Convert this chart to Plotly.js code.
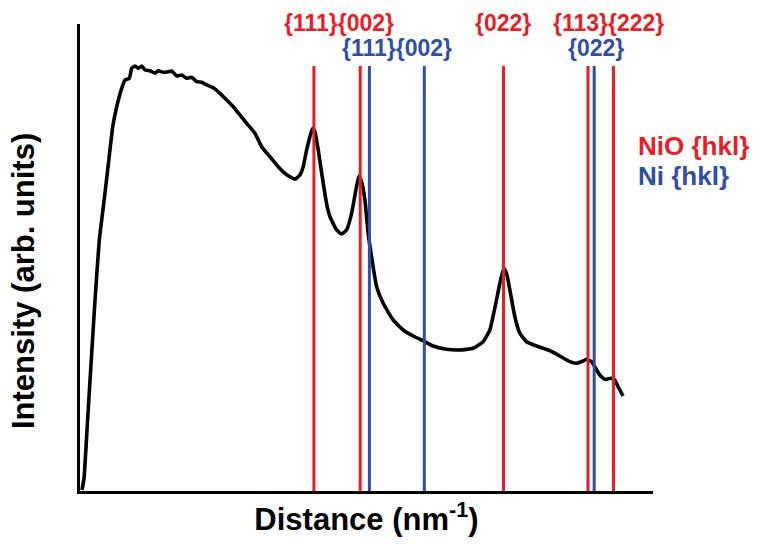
<!DOCTYPE html>
<html>
<head>
<meta charset="utf-8">
<script src="https://cdn.plot.ly/plotly-3.0.1.min.js"></script>
<style>html,body{margin:0;padding:0;background:#fff;}#chart{width:757px;height:544px;}</style>
</head>
<body>
<div id="chart"></div>
<script>
// Intensity profile (distance in nm^-1, intensity in arbitrary units)
var distance = [0.938,0.966,1.007,1.049,1.118,1.177,1.233,1.288,1.363,1.418,1.487,1.533,1.592,1.625,1.671,1.717,1.764,1.809,1.879,1.948,1.993,2.063,2.132,2.179,2.248,2.317,2.386,2.455,2.525,2.594,2.663,2.754,2.847,2.940,3.031,3.124,3.216,3.331,3.424,3.539,3.653,3.746,3.815,3.884,3.954,3.999,4.046,4.092,4.129,4.161,4.207,4.276,4.327,4.369,4.461,4.530,4.599,4.669,4.728,4.770,4.807,4.853,4.898,4.945,5.015,5.106,5.244,5.383,5.521,5.659,5.797,5.983,6.167,6.351,6.489,6.582,6.674,6.730,6.775,6.813,6.868,6.928,6.997,7.089,7.228,7.412,7.550,7.688,7.781,7.872,7.920,7.989,8.034,8.103,8.173,8.265,8.311,8.357,8.426];
var intensity = [0.21,2.78,13.06,23.77,40.90,53.75,60.88,68.03,78.01,82.29,86.23,88.01,88.37,90.51,91.01,90.51,91.01,90.15,90.00,89.44,90.00,89.66,89.79,89.94,88.87,89.08,88.37,88.59,87.64,87.52,86.94,86.36,85.16,83.73,82.29,80.51,78.74,76.60,73.73,71.58,69.44,68.03,67.30,66.75,67.67,69.44,73.02,75.87,77.67,76.94,73.02,65.89,61.24,58.74,55.89,55.03,55.89,59.46,64.45,67.45,66.23,62.31,55.18,50.17,43.75,40.19,36.62,34.48,33.19,32.18,31.05,30.34,30.19,30.56,31.97,34.48,40.90,45.18,47.69,46.62,42.33,37.32,33.77,31.97,31.05,30.04,28.91,27.69,27.35,27.84,28.20,27.69,26.62,24.84,23.92,24.13,23.77,22.33,20.34];

// Reflection positions (nm^-1)
var nioPeaks = [4.147, 4.788, 6.771, 7.940, 8.293];
var niPeaks = [4.915, 5.675, 8.026];
var markerTop = 91;

// Labels
var nioLabels = ['{111}{002}', '{022}', '{113}{222}'];
var niLabels = ['{111}{002}', '{022}'];
var legendLabels = ['NiO {hkl}', 'Ni {hkl}'];

var RED = '#ED1C24', BLUE = '#2E4FA3';
var FONT = 'Liberation Sans, Arial, Helvetica, sans-serif';

function vlines(arr) {
  var xs = [], ys = [];
  arr.forEach(function (v) { xs.push(v, v, null); ys.push(0, markerTop, null); });
  return {x: xs, y: ys};
}
var nioL = vlines(nioPeaks), niL = vlines(niPeaks);

var traces = [
  {x: distance, y: intensity, type: 'scatter', mode: 'lines',
   line: {color: '#000', width: 3.6, shape: 'spline', smoothing: 0.4}, hoverinfo: 'skip'},
  {x: nioL.x, y: nioL.y, type: 'scatter', mode: 'lines',
   line: {color: RED, width: 3}, hoverinfo: 'skip'},
  {x: niL.x, y: niL.y, type: 'scatter', mode: 'lines',
   line: {color: BLUE, width: 3}, hoverinfo: 'skip'}
];

var nioLabelX = [4.493, 6.769, 8.228];
var niLabelX = [5.302, 8.048];
var ann = [];
nioLabels.forEach(function (t, i) {
  ann.push({x: nioLabelX[i], y: 1.0015, xref: 'x', yref: 'paper', text: '<b>' + t + '</b>',
    showarrow: false, xanchor: 'center', yanchor: 'middle',
    font: {family: FONT, size: 23, color: RED}});
});
niLabels.forEach(function (t, i) {
  ann.push({x: niLabelX[i], y: 0.948, xref: 'x', yref: 'paper', text: '<b>' + t + '</b>',
    showarrow: false, xanchor: 'center', yanchor: 'middle',
    font: {family: FONT, size: 23, color: BLUE}});
});
ann.push({x: 8.60, y: 73.9, xref: 'x', yref: 'y', text: '<b>' + legendLabels[0] + '</b>',
  showarrow: false, xanchor: 'left', yanchor: 'middle', font: {family: FONT, size: 26, color: RED}});
ann.push({x: 8.60, y: 67.45, xref: 'x', yref: 'y', text: '<b>' + legendLabels[1] + '</b>',
  showarrow: false, xanchor: 'left', yanchor: 'middle', font: {family: FONT, size: 26, color: BLUE}});
ann.push({x: -0.0977, y: 0.4497, xref: 'paper', yref: 'paper', text: '<b>Intensity (arb. units)</b>',
  textangle: -90, showarrow: false, xanchor: 'center', yanchor: 'middle',
  font: {family: FONT, size: 31, color: '#000'}});

var layout = {
  width: 757, height: 544,
  margin: {l: 80, r: 104, t: 24, b: 53, pad: 0},
  paper_bgcolor: '#fff', plot_bgcolor: '#fff',
  showlegend: false, hovermode: false,
  xaxis: {range: [0.91, 8.84], showline: true, linewidth: 3, linecolor: '#000',
    showgrid: false, zeroline: false, showticklabels: false, ticks: '',
    title: {text: '<b>Distance (nm<sup>-1</sup>)</b>', font: {family: FONT, size: 31, color: '#000'}, standoff: 16}},
  yaxis: {range: [0, 100], showline: true, linewidth: 3, linecolor: '#000',
    showgrid: false, zeroline: false, showticklabels: false, ticks: ''},
  annotations: ann
};

Plotly.newPlot('chart', traces, layout, {displayModeBar: false, staticPlot: true});
</script>
</body>
</html>
